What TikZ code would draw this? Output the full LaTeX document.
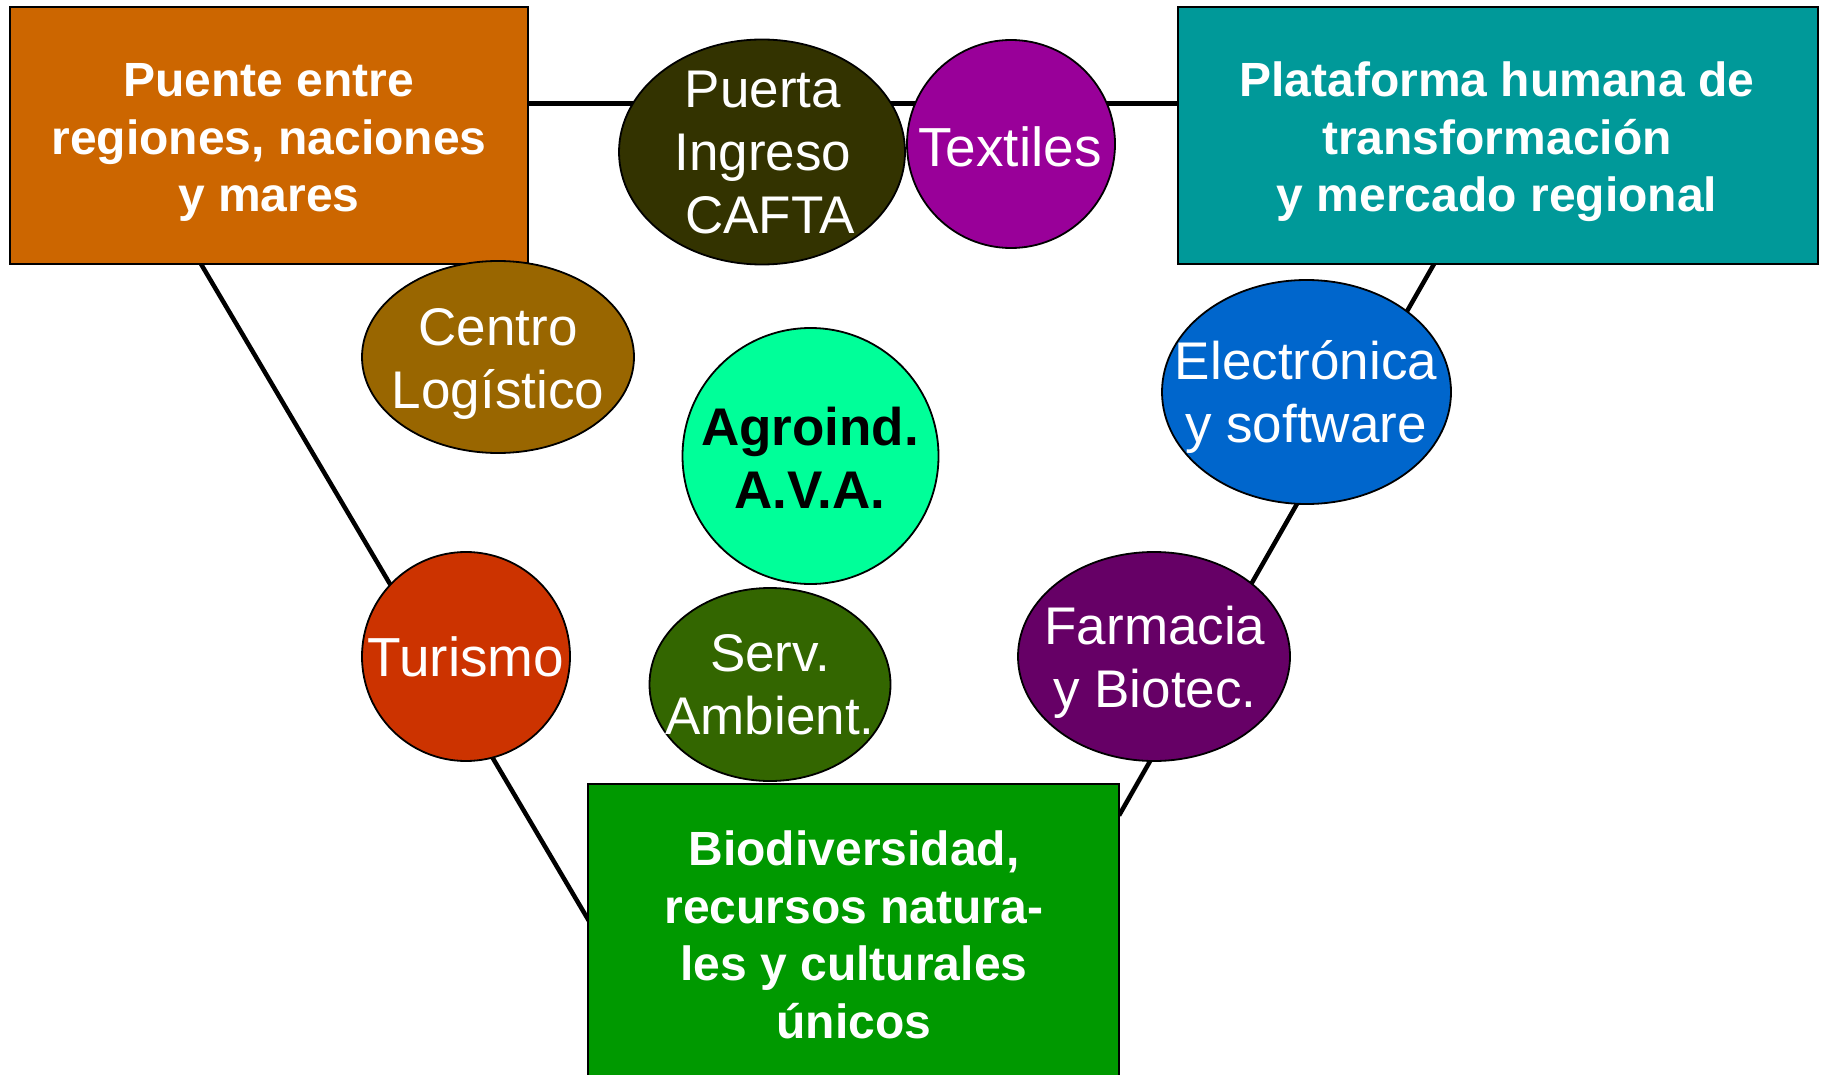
\documentclass[tikz,border=0pt]{standalone}
\usepackage{fontspec}
\setmainfont{Liberation Sans}
\usetikzlibrary{shapes.geometric,calc}
\definecolor{cOrange}{HTML}{CC6600}
\definecolor{cTeal}{HTML}{009999}
\definecolor{cGreen}{HTML}{009900}
\definecolor{cPuerta}{HTML}{333300}
\definecolor{cTextil}{HTML}{990099}
\definecolor{cCentro}{HTML}{996600}
\definecolor{cAgro}{HTML}{00FF99}
\definecolor{cElec}{HTML}{0066CC}
\definecolor{cFarma}{HTML}{660066}
\definecolor{cTur}{HTML}{CC3300}
\definecolor{cServ}{HTML}{336600}
\tikzset{
  boxshape/.style={draw=black, line width=1.8pt, rectangle, inner sep=0pt},
  ellshape/.style={draw=black, line width=1.8pt, ellipse, inner sep=0pt},
  boxtxt/.style={inner sep=0pt, align=center, text=white, font=\bfseries\fontsize{48}{57.5}\selectfont},
  elltxt/.style={inner sep=0pt, align=center, text=white, font=\fontsize{53}{63}\selectfont},
  link/.style={draw=black, line width=4.5pt},
}
\begin{document}
\begin{tikzpicture}[x=1pt,y=-1pt]
\useasboundingbox (0,0) rectangle (1822,1075);
\clip (0,0) rectangle (1822,1075);
\fill[white] (0,0) rectangle (1822,1075);

% connector end points on box borders
\coordinate (topA) at (528,104);
\coordinate (topB) at (1178,104);
\coordinate (leftA) at (201,264);
\coordinate (leftB) at (589,921);
\coordinate (rightA) at (1434,264);
\coordinate (rightB) at (1119,815.5);

\draw[link, line width=5pt] (topA) -- (topB);
\draw[link] (leftA) -- (leftB);
\draw[link] (rightA) -- (rightB);

% boxes
\node (orange) [boxshape, fill=cOrange, minimum width=518pt, minimum height=257pt] at (269,135.5) {};
\node (teal) [boxshape, fill=cTeal, minimum width=640pt, minimum height=257pt] at (1498,135.5) {};
\node (green) [boxshape, fill=cGreen, minimum width=531pt, minimum height=316pt] at (853.5,942) {};

\node (orange-t) [boxtxt] at (269,142.5) {Puente entre\\regiones, naciones\\y mares};
\node (teal-t) [boxtxt] at (1497,142) {Plataforma humana de\\transformación\\y mercado regional};
\node (green-t) [boxtxt] at (854,935) {Biodiversidad,\\recursos natura-\\les y culturales\\únicos};

% ellipses
\node (puerta) [ellshape, fill=cPuerta, minimum width=286pt, minimum height=225pt] at (762,152) {};
\node (textil) [ellshape, fill=cTextil, minimum width=208pt, minimum height=208pt] at (1011,144) {};
\node (centro) [ellshape, fill=cCentro, minimum width=272pt, minimum height=192pt] at (498,357) {};
\node (agro) [ellshape, fill=cAgro, minimum width=256pt, minimum height=256pt] at (810.5,456) {};
\node (elec) [ellshape, fill=cElec, minimum width=289pt, minimum height=224pt] at (1306.5,392) {};
\node (farma) [ellshape, fill=cFarma, minimum width=272pt, minimum height=209pt] at (1154,656.5) {};
\node (tur) [ellshape, fill=cTur, minimum width=208pt, minimum height=209pt] at (466,656.5) {};
\node (serv) [ellshape, fill=cServ, minimum width=241pt, minimum height=193pt] at (770,684.5) {};

\node (puerta-t) [elltxt] at (763,153) {Puerta\\Ingreso\\\hspace*{14pt}CAFTA};
\node (textil-t) [elltxt, font=\fontsize{55}{63}\selectfont] at (1010,147) {Textiles};
\node (centro-t) [elltxt] at (498,364) {Centro\\Logístico};
\node (agro-t) [elltxt, text=black, font=\bfseries\fontsize{53}{63}\selectfont] at (810,457.5) {Agroind.\\A.V.A.};
\node (elec-t) [elltxt] at (1306,396.5) {Electrónica\\y software};
\node (farma-t) [elltxt] at (1155,662) {Farmacia\\y Biotec.};
\node (tur-t) [elltxt, font=\fontsize{55}{63}\selectfont] at (466,657) {Turismo};
\node (serv-t) [elltxt] at (770,685) {Serv.\\Ambient.};
\end{tikzpicture}
\end{document}
